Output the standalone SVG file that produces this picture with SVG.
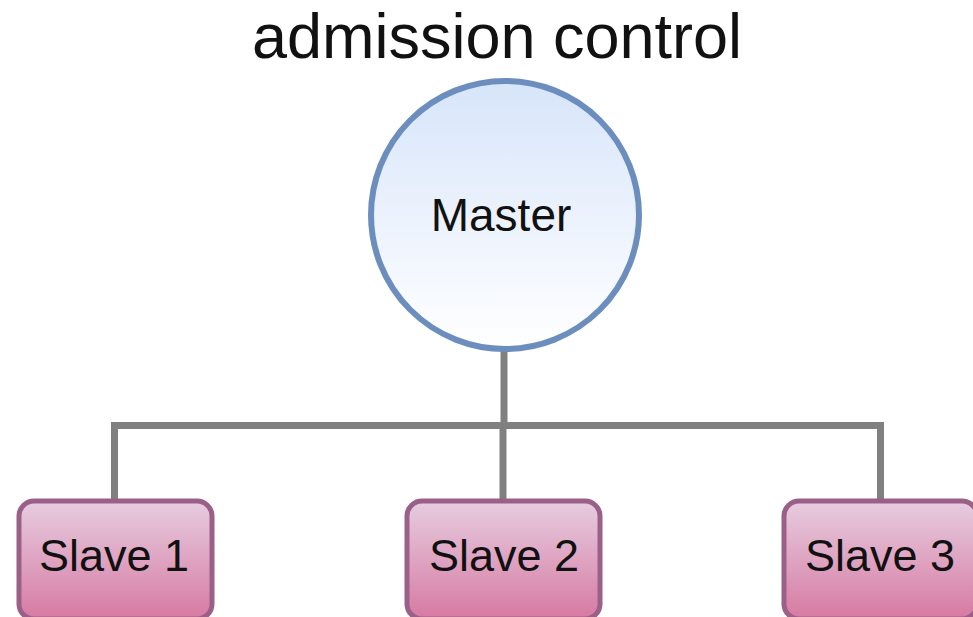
<svg xmlns="http://www.w3.org/2000/svg" width="973" height="617" viewBox="0 0 973 617">
  <defs>
    <linearGradient id="gMaster" x1="0" y1="0" x2="0" y2="1">
      <stop offset="0" stop-color="#d7e5fa"/>
      <stop offset="1" stop-color="#ffffff"/>
    </linearGradient>
    <linearGradient id="gSlave" x1="0" y1="0" x2="0" y2="1">
      <stop offset="0" stop-color="#e6cde0"/>
      <stop offset="1" stop-color="#d77aa2"/>
    </linearGradient>
  </defs>
  <style>
    .label { font-family: "Liberation Sans", Arial, sans-serif; fill: #111; text-anchor: middle; }
    .wire { fill: none; stroke: #808080; stroke-width: 7; stroke-linejoin: miter; }
    .slave { fill: url(#gSlave); stroke: #9b6088; stroke-width: 5; }
  </style>
  <rect width="973" height="617" fill="#ffffff"/>

  <text class="label" x="497" y="58" font-size="63">admission control</text>

  <g id="connectors">
    <path class="wire" d="M504 350 V425.5"/>
    <path class="wire" d="M114.5 500 V425.5 H880.5 V500"/>
    <path class="wire" d="M503 425.5 V500"/>
  </g>

  <g id="master">
    <circle cx="505" cy="215" r="134" fill="url(#gMaster)" stroke="#6c8ebf" stroke-width="6"/>
    <text class="label" x="501" y="231" font-size="46">Master</text>
  </g>

  <g id="slave1">
    <rect class="slave" x="19" y="501" width="193" height="118" rx="15"/>
    <text class="label" x="114" y="571" font-size="45">Slave 1</text>
  </g>
  <g id="slave2">
    <rect class="slave" x="407" y="501" width="193" height="118" rx="15"/>
    <text class="label" x="504" y="571" font-size="45">Slave 2</text>
  </g>
  <g id="slave3">
    <rect class="slave" x="784" y="501" width="193" height="118" rx="15"/>
    <text class="label" x="880" y="571" font-size="45">Slave 3</text>
  </g>
</svg>
